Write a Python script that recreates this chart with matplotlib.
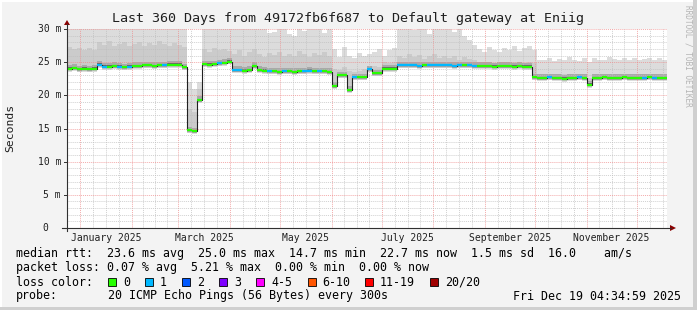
import numpy as np
import matplotlib
matplotlib.use('Agg')
import matplotlib.pyplot as plt
import matplotlib.dates as mdates
from matplotlib.transforms import blended_transform_factory
from matplotlib.patches import Rectangle, Polygon
from matplotlib.lines import Line2D

W, H = 697, 310
MONO = 'DejaVu Sans Mono'

# ---- data (one value per 3 day bin) ----
title = 'Last 360 Days from 49172fb6f687 to Default gateway at Eniig'
t_end = np.datetime64('2025-12-19T04:34:59')
t_start = t_end - np.timedelta64(360, 'D')
bin_days = 3

median_ms = [24.0, 24.1, 23.9, 24.0, 23.9, 24.0,
             24.6, 24.3, 24.3, 24.4, 24.3, 24.2, 24.3, 24.4, 24.4, 24.5, 24.5, 24.4, 24.5, 24.5, 24.6, 24.6, 24.6, 24.2,
             14.7, 14.6, 19.3,
             24.7, 24.6, 24.7, 24.8, 24.9, 25.1,
             23.8, 23.8, 23.7, 23.8, 24.4, 23.8, 23.7, 23.6, 23.6, 23.5, 23.6, 23.6, 23.5, 23.6, 23.6, 23.7, 23.6, 23.6, 23.6, 23.5,
             21.4, 23.0, 23.0, 20.8, 22.7, 22.7, 22.7, 23.9,
             23.3, 23.3, 24.0, 24.0, 24.0,
             24.5, 24.5, 24.5, 24.5, 24.4, 24.5, 24.5, 24.5, 24.5, 24.5, 24.5, 24.4, 24.5, 24.5, 24.5, 24.4,
             24.4, 24.4, 24.4, 24.3, 24.4, 24.4, 24.4, 24.3, 24.4, 24.3, 24.3, 22.7,
             22.6, 22.6, 22.7, 22.6, 22.6, 22.5, 22.6, 22.6, 22.7, 22.6, 21.6, 22.6, 22.6, 22.7, 22.6, 22.6, 22.6, 22.7,
             22.6, 22.6, 22.6, 22.6, 22.7, 22.6, 22.6, 22.6]

loss = [0, 0, 0, 0, 0, 0,
        1, 1, 0, 0, 1, 0, 1, 0, 0, 0, 0, 0, 0, 1, 0, 0, 0, 0,
        0, 0, 0,
        0, 0, 0, 1, 0, 0,
        1, 1, 0, 0, 0, 0, 0, 1, 0, 0, 1, 0, 0, 0, 1, 1, 0, 1, 0, 0,
        0, 0, 0, 0, 1, 0, 0, 1,
        0, 0, 0, 0, 0,
        1, 1, 1, 1, 1, 0, 1, 1, 1, 1, 1, 1, 1, 0, 1, 1,
        0, 0, 0, 0, 0, 0, 0, 0, 0, 0, 0, 0,
        0, 0, 1, 0, 0, 0, 0, 0, 1, 0, 0, 0, 0, 0, 0, 0, 0, 0, 0, 0, 0, 1, 0, 1, 0, 0]

smoke_top = [30.5] * 24 + [22.0, 21.0, 22.0] + [30.5] * 6 + \
            [30.5, 30.5, 30.5, 30.5, 30.5, 30.5, 30.5, 29.4, 29.6, 30.5, 30.5, 29.2, 29.0, 30.5, 29.7, 30.5, 30.5, 30.5, 29.4, 30.5,
             27.0, 25.8, 27.3, 26.0, 25.7, 26.4, 25.9, 26.3,
             26.6, 27.0, 25.9, 26.8, 27.2,
             30.5, 30.5, 30.5, 29.8, 30.5, 30.5, 29.2, 30.5, 30.5, 30.5, 30.5, 29.5, 30.5, 28.9, 28.4, 27.6,
             27.0, 26.6, 27.3, 26.8, 26.5, 27.1, 26.9, 27.4, 26.7, 27.2, 27.5, 26.9,
             25.4, 25.3, 25.6, 25.2, 25.5, 25.3, 25.8, 25.4, 25.2, 25.6, 25.0, 25.7, 25.4, 25.3, 25.8, 25.5, 25.3, 25.6,
             25.4, 25.7, 25.3, 25.5, 25.6, 25.4, 25.7, 25.3]

smoke_mid = [27.3, 27.0, 27.2, 26.8, 27.1, 26.9,
             28.0, 27.6, 28.2, 27.5, 27.8, 28.1, 27.4, 27.7, 28.0, 27.5, 27.9, 27.6, 28.2, 27.7, 27.4, 27.9, 27.6, 27.3,
             18.0, 17.5, 21.0,
             27.0, 26.6, 27.2, 26.8, 27.0, 26.7,
             26.3, 26.8, 25.9, 26.5, 27.0, 26.2, 25.8, 26.4, 26.1, 26.6, 25.9, 26.3, 26.0, 26.7, 26.2, 25.8, 26.4, 26.1, 26.5, 26.0,
             24.0, 23.8, 24.2, 23.7, 23.5, 23.6, 23.9, 24.3,
             24.4, 24.2, 25.0, 24.9, 25.1,
             26.0, 25.6, 26.2, 25.8, 26.1, 25.5, 25.9, 26.3, 25.7, 26.0, 25.6, 25.9, 25.4, 25.8, 25.5, 25.3,
             25.0, 24.9, 25.1, 24.9, 25.0, 25.1, 24.9, 25.0, 25.1, 24.9, 25.0, 24.8,
             23.1, 23.0, 23.2, 23.1, 23.0, 23.2, 23.1, 23.0, 23.2, 23.1, 22.6, 23.1, 23.0, 23.2, 23.1, 23.0, 23.2, 23.1,
             23.0, 23.2, 23.1, 23.0, 23.1, 23.2, 23.0, 23.1]

ytick_vals = [0, 5, 10, 15, 20, 25, 30]
ytick_labels = ['0  ', '5 m', '10 m', '15 m', '20 m', '25 m', '30 m']
label_months = [1, 3, 5, 7, 9, 11]
month_names = ['January 2025', 'March 2025', 'May 2025', 'July 2025', 'September 2025', 'November 2025']

rtt_line = 'median rtt:  23.6 ms avg  25.0 ms max  14.7 ms min  22.7 ms now  1.5 ms sd  16.0    am/s'
loss_line = 'packet loss: 0.07 % avg  5.21 % max  0.00 % min  0.00 % now'
loss_names = ['0', '1', '2', '3', '4-5', '6-10', '11-19', '20/20']
loss_colors = ['#26ff00', '#00b8ff', '#0059ff', '#7e00ff', '#ff00ff', '#ff5500', '#ff0000', '#a00000']
probe_text = '20 ICMP Echo Pings (56 Bytes) every 300s'
stamp = 'Fri Dec 19 04:34:59 2025'


def fx(x):
    return x / W


def fy(y):
    return 1 - y / H


fig = plt.figure(figsize=(W / 100, H / 100), dpi=100)
fig.patch.set_facecolor('#f3f3f3')
# 3d-ish frame
fig.add_artist(Rectangle((0, fy(2)), 1, 2 / H, transform=fig.transFigure, color='#ffffff', lw=0))
fig.add_artist(Rectangle((0, 0), 2 / W, 1, transform=fig.transFigure, color='#ffffff', lw=0))
fig.add_artist(Rectangle((fx(693), 0), 4 / W, 1, transform=fig.transFigure, color='#cfcfcf', lw=0))
fig.add_artist(Rectangle((0, 0), 1, 3 / H, transform=fig.transFigure, color='#cfcfcf', lw=0))

ax = fig.add_axes([fx(67), fy(228), 600 / W, 199 / H])
ax.set_facecolor('white')
for s in ax.spines.values():
    s.set_visible(False)

edges = mdates.date2num(t_start + np.arange(len(median_ms) + 1) * np.timedelta64(bin_days, 'D'))
med = np.array(median_ms)
med_e = np.append(med, med[-1])
top_e = np.append(smoke_top, smoke_top[-1])
mid_e = np.append(smoke_mid, smoke_mid[-1])

# smoke
ax.fill_between(edges, med_e - 0.45, top_e, step='post', color='#dcdcdc', lw=0, zorder=1)
ax.fill_between(edges, med_e - 0.35, mid_e, step='post', color='#cbcbcb', lw=0, zorder=1.1)
ax.fill_between(edges, med_e - 0.25, med_e + 0.55, step='post', color='#a9a9a9', lw=0, zorder=1.2)
ax.fill_between(edges, med_e - 0.15, med_e + 0.2, step='post', color='#686868', lw=0, zorder=1.3)

# grid
xmin = mdates.date2num(t_start)
xmax = mdates.date2num(t_end)
ax.set_xlim(xmin, xmax)
ax.set_ylim(0, 30)
month_starts = [np.datetime64('2025-%02d-01' % m) for m in range(1, 13)]
ax.set_xticks(mdates.date2num(np.array(month_starts)))
quarters = []
all_months = [np.datetime64('2024-12-01')] + month_starts + [np.datetime64('2026-01-01')]
for a, b in zip(all_months[:-1], all_months[1:]):
    span = (b - a) / np.timedelta64(1, 'h')
    for k in (1, 2, 3):
        quarters.append(mdates.date2num(a) + span * k / 4 / 24)
ax.set_xticks([q for q in quarters if xmin + 0.5 < q < xmax], minor=True)
ax.set_yticks(ytick_vals)
ax.set_yticks(range(0, 31), minor=True)
ax.grid(which='minor', color='#bdbdbd', ls=(0, (1, 1)), lw=0.7, alpha=0.7, zorder=2)
ax.grid(which='major', color='#ee8888', ls=(0, (1, 1)), lw=0.7, alpha=0.7, zorder=2)
ax.set_axisbelow(False)
ax.tick_params(which='both', length=0, labelbottom=False, labelleft=False)

# median line coloured by loss
ax.step(edges, med_e, where='post', color='#202020', lw=0.8, zorder=3)
cols = [loss_colors[l] for l in loss]
ax.hlines(med, edges[:-1], edges[1:], colors=cols, lw=1.6, zorder=4, capstyle='butt')

# axes lines with arrows
fig.add_artist(Line2D([fx(67), fx(67)], [fy(231), fy(24)], transform=fig.transFigure, color='#303030', lw=0.8))
fig.add_artist(Line2D([fx(62), fx(671)], [fy(228), fy(228)], transform=fig.transFigure, color='#303030', lw=0.8))
fig.add_artist(Polygon([(fx(64), fy(25)), (fx(70), fy(25)), (fx(67), fy(20))], closed=True,
                       transform=fig.transFigure, color='#8b0000', lw=0))
fig.add_artist(Polygon([(fx(670), fy(225)), (fx(670), fy(231)), (fx(676), fy(228))], closed=True,
                       transform=fig.transFigure, color='#8b0000', lw=0))
for v in ytick_vals:
    yy = 228 - v / 30 * 199
    fig.add_artist(Line2D([fx(64), fx(67)], [fy(yy), fy(yy)], transform=fig.transFigure, color='#303030', lw=0.7))

# tick labels
ty = blended_transform_factory(fig.transFigure, ax.transData)
for v, lab in zip(ytick_vals, ytick_labels):
    ax.text(fx(61), v, lab, transform=ty, ha='right', va='center', family=MONO, fontsize=7, color='#202020')
tx = blended_transform_factory(ax.transData, fig.transFigure)
for m, name in zip(label_months, month_names):
    a = np.datetime64('2025-%02d-01' % m)
    b = np.datetime64('2025-%02d-01' % (m + 1))
    mid = mdates.date2num(a) + (b - a) / np.timedelta64(1, 'D') / 2
    ax.text(mid, fy(238), name, transform=tx, ha='center', va='center', family=MONO, fontsize=7, color='#202020')

fig.text(0.5 * (fx(112) + fx(584)), fy(18.5), title, ha='center', va='center', family=MONO, fontsize=9.6, color='#202020')
fig.text(fx(10), fy(128), 'Seconds', rotation=90, ha='center', va='center', family=MONO, fontsize=8.2, color='#202020')
fig.text(fx(688), fy(5), 'RRDTOOL / TOBI OETIKER', rotation=270, ha='center', va='top', family=MONO,
         fontsize=5.6, color='#b4b4b4')

# legend
fs = 8.4
fig.text(fx(16), fy(254), rtt_line, ha='left', va='center', family=MONO, fontsize=fs)
fig.text(fx(16), fy(268), loss_line, ha='left', va='center', family=MONO, fontsize=fs)
fig.text(fx(16), fy(282), 'loss color:', ha='left', va='center', family=MONO, fontsize=fs)
for x0, s, c in zip([108, 145, 182, 219, 256, 307.5, 365, 430], loss_names, loss_colors):
    fig.add_artist(Rectangle((fx(x0), fy(286)), 8 / W, 8 / H, transform=fig.transFigure,
                             facecolor=c, edgecolor='#000000', lw=0.6))
    fig.text(fx(x0 + 15), fy(282), s, ha='left', va='center', family=MONO, fontsize=fs)
fig.text(fx(16), fy(296), 'probe:', ha='left', va='center', family=MONO, fontsize=fs)
fig.text(fx(107.6), fy(296), probe_text, ha='left', va='center', family=MONO, fontsize=fs)
fig.text(fx(681), fy(296), stamp, ha='right', va='center', family=MONO, fontsize=fs)

fig.savefig('out.png', dpi=100, facecolor=fig.get_facecolor())
